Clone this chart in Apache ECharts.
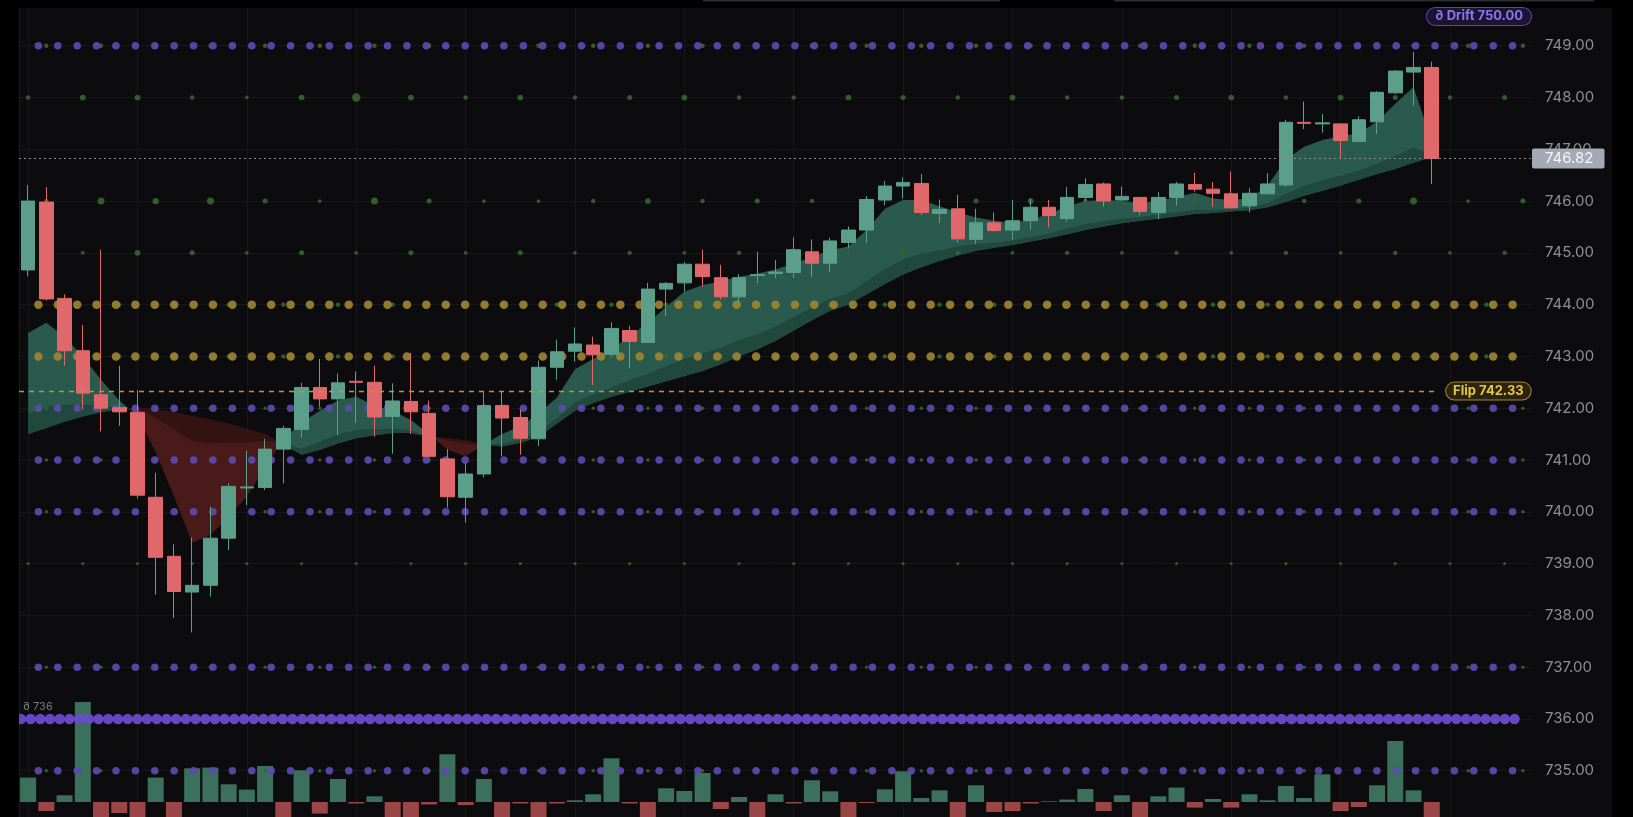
<!DOCTYPE html>
<html>
<head>
<meta charset="utf-8">
<script src="https://cdn.jsdelivr.net/npm/echarts@6/dist/echarts.min.js"></script>
<style>
html,body{margin:0;padding:0;background:#000;overflow:hidden;}
#c{width:1633px;height:817px;}
</style>
</head>
<body>
<div id="c"></div>
<script>
// ---------- DATA ----------
// 5-minute session bars 09:30 -> 15:55 (78 bars) plus 5 empty slots to the right
const SLOT_COUNT = 83;
const times = [];
for (let i = 0, m = 9 * 60 + 30; i < SLOT_COUNT; i++, m += 5) {
  times.push(String(Math.floor(m / 60)).padStart(2, '0') + ':' + String(m % 60).padStart(2, '0'));
}

const open  = [744.67,745.98,744.12,743.11,742.26,742.01,741.92,740.28,739.14,738.45,
               738.58,739.49,740.46,740.47,741.21,741.59,742.40,742.18,742.52,742.50,
               741.84,742.13,741.90,741.02,740.28,740.73,742.05,741.82,741.41,742.79,
               743.10,743.22,743.04,743.50,743.27,744.30,744.42,744.78,744.52,744.15,
               744.56,744.60,744.62,745.02,744.80,745.20,745.44,746.02,746.29,746.34,
               745.76,745.85,745.26,745.58,745.44,745.62,745.88,745.66,746.07,746.33,
               746.02,746.07,745.78,746.07,746.32,746.23,746.14,745.91,746.14,746.31,
               747.52,747.49,747.49,747.15,747.53,748.09,748.49,748.58];
const close = [746.00,744.11,743.11,742.29,742.00,741.93,740.32,739.12,738.46,738.58,
               739.49,740.49,740.48,741.21,741.61,742.40,742.18,742.49,742.50,741.83,
               742.14,741.93,741.07,740.29,740.73,742.05,741.81,741.42,742.79,743.09,
               743.24,743.03,743.54,743.29,744.30,744.41,744.78,744.54,744.15,744.52,
               744.58,744.63,745.06,744.80,745.23,745.44,746.03,746.29,746.36,745.78,
               745.84,745.27,745.58,745.43,745.62,745.88,745.72,746.07,746.32,746.00,
               746.09,745.80,746.07,746.33,746.23,746.15,745.87,746.15,746.33,747.52,
               747.50,747.51,747.17,747.57,748.10,748.51,748.58,746.82];
const low   = [744.55,744.08,742.82,741.97,741.55,741.66,740.26,738.40,737.95,737.67,
               738.36,739.26,740.13,740.42,740.55,741.43,742.03,741.48,741.72,741.45,
               741.12,741.50,741.05,740.08,739.79,740.66,741.07,741.10,741.27,742.55,
               742.90,742.45,743.00,742.77,743.26,743.78,744.25,744.35,744.10,744.03,
               744.41,744.51,744.51,744.54,744.63,745.09,745.19,745.92,746.05,745.73,
               745.58,745.20,745.17,745.41,745.26,745.44,745.49,745.60,745.99,745.89,
               746.00,745.73,745.65,745.91,746.18,745.89,745.86,745.78,746.12,746.27,
               747.39,747.32,746.83,747.13,747.29,748.07,747.84,746.33];
const high  = [746.31,746.27,744.20,743.61,745.06,742.82,742.35,740.75,739.37,739.50,
               740.10,740.55,741.18,741.41,741.66,742.49,742.95,742.67,742.71,742.82,
               742.48,743.07,742.15,741.21,740.95,742.32,742.32,741.97,742.92,743.32,
               743.56,743.38,743.66,743.59,744.42,744.44,744.82,745.06,744.77,744.59,
               745.02,744.86,745.30,745.26,745.29,745.51,746.10,746.39,746.46,746.52,
               746.03,746.12,745.85,745.78,746.02,746.05,746.02,746.27,746.44,746.36,
               746.28,746.08,746.17,746.37,746.55,746.37,746.57,746.25,746.54,747.57,
               747.92,747.68,747.50,747.64,748.12,748.53,748.88,748.69];

// trend ribbon (fast / mid / slow averages)
const ribbonFast = [743.45,743.65,743.38,743.00,742.55,742.15,741.85,741.15,740.30,739.40,
                    739.55,739.90,740.30,740.85,741.40,741.72,741.95,742.15,742.22,742.05,
                    741.95,741.77,741.50,741.20,741.07,741.30,741.50,741.65,741.90,742.20,
                    742.75,742.95,743.13,743.40,743.64,743.96,744.25,744.38,744.45,744.54,
                    744.60,744.68,744.80,744.92,745.05,745.12,745.44,745.85,746.02,746.02,
                    745.90,745.78,745.68,745.62,745.58,745.64,745.75,745.90,746.00,746.02,
                    746.00,745.96,746.00,746.08,746.16,746.05,746.02,746.05,746.30,746.80,
                    747.05,747.18,747.25,747.31,747.53,747.88,748.20,747.15];
const ribbonMid  = [741.89,742.03,742.07,742.07,742.05,742.01,741.99,741.81,741.60,741.36,
                    741.33,741.34,741.34,741.37,741.32,741.22,741.35,741.49,741.58,741.59,
                    741.61,741.57,741.46,741.38,741.32,741.30,741.31,741.39,741.54,741.80,
                    742.11,742.27,742.40,742.54,742.66,742.81,742.95,743.05,743.17,743.31,
                    743.43,743.58,743.76,743.94,744.11,744.22,744.45,744.69,744.87,744.98,
                    745.05,745.12,745.17,745.20,745.24,745.30,745.37,745.47,745.55,745.61,
                    745.66,745.69,745.73,745.78,745.83,745.83,745.84,745.87,745.96,746.14,
                    746.29,746.40,746.49,746.59,746.72,746.87,747.03,746.91];
const ribbonSlow = [741.50,741.62,741.74,741.84,741.92,741.98,742.02,741.98,741.92,741.85,
                    741.78,741.70,741.60,741.50,741.30,741.10,741.20,741.32,741.42,741.48,
                    741.52,741.52,741.45,741.42,741.38,741.30,741.26,741.33,741.45,741.70,
                    741.95,742.10,742.22,742.32,742.42,742.52,742.62,742.72,742.85,743.00,
                    743.14,743.30,743.50,743.70,743.88,744.00,744.20,744.40,744.58,744.72,
                    744.84,744.95,745.04,745.10,745.15,745.22,745.28,745.36,745.44,745.51,
                    745.57,745.62,745.66,745.70,745.75,745.77,745.80,745.82,745.88,745.98,
                    746.10,746.20,746.30,746.41,746.52,746.62,746.74,746.85];

// signed volume delta (thousands)
const volumeDelta = [24.4,-9,6.7,100,-22,-11,-22,24.4,-22,33.7,
                     34.4,17.7,12.4,36,-22,31.7,-11.6,23,-1.5,5.7,
                     -22,-22,-2.5,47.7,-3,23,-22,-1.5,-22,-1.5,
                     1.7,7.7,43.7,-1.5,-22,13.7,11,29,-7,5,
                     -22,7.7,-1.5,21.7,10.7,-22,-1,12.7,30.7,4,
                     11.7,-22,16.7,-10,-9,-1.5,0.7,2.4,13,-9,
                     6.7,-22,5.7,14.4,-5.6,3,-5.6,7.7,1.7,16,
                     4,27.7,-9,-5,16.7,61,11.7,-22];

// level markers
const purpleLevels = [749, 742, 741, 740, 737, 735];
const goldLevels   = [744, 743];
const denseLevel   = 736;
const lastPrice    = close[close.length - 1];
const flipLevel    = 742.33;
const driftLevel   = 750.00;
const yTicks       = [734, 750, 1]; // min, max, step

// small green level dots: [level, first slot, weights...]
const greenRows = [
  [748, 0, [2,3,3,2,1.5,3,5,3,2,3,2,2.5,3,2,2,3,2.5,2,3,2,2,2.5,3,2,3,2.5,2,2.5]],
  [746, 1, [2,4,3.5,4,2.5,1.5,4,2.5,1.5,1.5,2,3,2,2.5,2,3,2,2.5,3,2,2.5,2,2,2,2.5,4,1.5,2.5]],
  [745, 0, [1.5,1.5,3,2.5,1.5,2.5,1.5,2.5,1.5,2.5,1.5,2,1.5,2,1.5,2,2.5,2,1.5,2,1.5,2,1.5,2,1.5,2,1.5,2]],
  [749, 1, [2,2,2,2,2,2,2,2,2,2,2,2,2,2,2,2,2,2,2,2,2,2,2,2,2,2,2,2]],
  [744, 2, [2,2,2,2,2,2,2,2,2,2,2,2,2,2,2,2,2,2,2,2,2,2,2,2,2,2,2]],
  [743, 2, [2,2,2,2,2,2,2,2,2,2,2,2,2,2,2,2,2,2,2,2,2,2,2,2,2,2,2]],
  [742, 1, [1.2,1.2,1.2,1.2,1.2,1.2,1.2,1.2,1.2,1.2,1.2,1.2,1.2,1.2,1.2,1.2,1.2,1.2,1.2,1.2,1.2,1.2,1.2,1.2,1.2,1.2,1.2,1.2]],
  [741, 1, [1.2,1.2,1.2,1.2,1.2,1.2,1.2,1.2,1.2,1.2,1.2,1.2,1.2,1.2,1.2,1.2,1.2,1.2,1.2,1.2,1.2,1.2,1.2,1.2,1.2,1.2,1.2,1.2]],
  [740, 1, [1.2,1.2,1.2,1.2,1.2,1.2,1.2,1.2,1.2,1.2,1.2,1.2,1.2,1.2,1.2,1.2,1.2,1.2,1.2,1.2,1.2,1.2,1.2,1.2,1.2,1.2,1.2,1.2]],
  [739, 0, [1,1,1,1,1,1,1,1,1,1,1,1,1,1,1,1,1,1,1,1,1,1,1,1,1,1,1,1]],
  [737, 1, [1.2,1.2,1.2,1.2,1.2,1.2,1.2,1.2,1.2,1.2,1.2,1.2,1.2,1.2,1.2,1.2,1.2,1.2,1.2,1.2,1.2,1.2,1.2,1.2,1.2,1.2,1.2,1.2]],
  [735, 1, [1.2,1.2,1.2,1.2,1.2,1.2,1.2,1.2,1.2,1.2,1.2,1.2,1.2,1.2,1.2,1.2,1.2,1.2,1.2,1.2,1.2,1.2,1.2,1.2,1.2,1.2,1.2,1.2]]
];

// ---------- LAYOUT / STYLE ----------
const DOT_SLOTS = 78;          // level-dot lattice width
const UP = '#5b9e89', DOWN = '#e0676a';
const PX = { left: 19, right: 101 };

// ---------- BUILD ----------
const candleData = open.map((o, i) => [o, close[i], low[i], high[i]]);

function levelRow(level, from, to, step) {
  const a = [];
  for (let k = from; k <= to + 1e-9; k += step) a.push([+k.toFixed(3), level]);
  return a;
}
const purpleDots = purpleLevels.flatMap(l => levelRow(l, 1, DOT_SLOTS - 1, 1));
const goldDots   = goldLevels.flatMap(l => levelRow(l, 1, DOT_SLOTS - 1, 1));
const denseDots  = levelRow(denseLevel, 0.1, DOT_SLOTS - 0.9, 0.5);
const greenDots  = [];
greenRows.forEach(([lvl, first, w]) => {
  w.forEach((wt, j) => { const idx = first + 3 * j; if (idx < SLOT_COUNT) greenDots.push([idx, lvl, wt]); });
});

function ribbonRender(params, api) {
  if (params.dataIndex !== 0) return null;
  const n = ribbonFast.length;
  const runs = [];
  let cur = null;
  for (let i = 0; i < n; i++) {
    const d = ribbonFast[i] - ribbonSlow[i];
    const up = d >= 0;
    const pt = { f: api.coord([i, ribbonFast[i]]), m: api.coord([i, ribbonMid[i]]), s: api.coord([i, ribbonSlow[i]]) };
    if (!cur) { cur = { up, pts: [pt] }; runs.push(cur); continue; }
    if (up !== cur.up) {
      const dp = ribbonFast[i - 1] - ribbonSlow[i - 1];
      const t = dp / (dp - d);
      const prev = cur.pts[cur.pts.length - 1];
      const cx = [prev.f[0] + (pt.f[0] - prev.f[0]) * t, prev.f[1] + (pt.f[1] - prev.f[1]) * t];
      const c = { f: cx, m: cx, s: cx };
      cur.pts.push(c);
      cur = { up, pts: [c, pt] };
      runs.push(cur);
    } else cur.pts.push(pt);
  }
  const children = [];
  runs.forEach(r => {
    const outer = r.pts.map(p => p.f).concat(r.pts.map(p => p.s).reverse());
    const inner = r.pts.map(p => p.m).concat(r.pts.map(p => p.s).reverse());
    children.push({ type: 'polygon', shape: { points: outer }, style: { fill: r.up ? '#2a5a4d' : '#4a1a1a' } });
    children.push({ type: 'polygon', shape: { points: inner }, style: { fill: r.up ? '#20483d' : '#331212' } });
  });
  return { type: 'group', children };
}

const vLines = [];
for (let i = 0; i < SLOT_COUNT; i += 6) vLines.push({ xAxis: times[i] });

const chart = echarts.init(document.getElementById('c'), null, { renderer: 'canvas', width: 1633, height: 817 });

const option = {
  animation: false,
  backgroundColor: '#0c0c0e',
  grid: [
    { left: PX.left, right: PX.right, top: -6.1, height: 828.6, containLabel: false, outerBoundsMode: 'none' },
    { left: PX.left, right: PX.right, top: 682, height: 136, containLabel: false, outerBoundsMode: 'none' }
  ],
  xAxis: [
    { gridIndex: 0, type: 'category', data: times, boundaryGap: true, show: false },
    { gridIndex: 0, type: 'value', min: 0, max: DOT_SLOTS, show: false },
    { gridIndex: 1, type: 'category', data: times, boundaryGap: true, show: false }
  ],
  yAxis: [
    {
      gridIndex: 0, type: 'value', position: 'right', min: yTicks[0], max: yTicks[1], interval: yTicks[2],
      axisLine: { show: true, lineStyle: { color: '#1b1b20' } }, axisTick: { show: false },
      axisLabel: { color: '#8e8e93', fontSize: 15, fontFamily: 'Inter', margin: 13,
                   showMinLabel: false, showMaxLabel: false, formatter: v => v.toFixed(2) },
      splitLine: { show: true, lineStyle: { color: '#18181c', width: 1 } }
    },
    { gridIndex: 1, type: 'value', min: -16, max: 120, show: false, splitLine: { show: false } }
  ],
  series: [
    { // vertical half-hour grid lines
      type: 'scatter', xAxisIndex: 0, yAxisIndex: 0, z: 1, silent: true,
      data: [[0, 742]], symbolSize: 0,
      markLine: { silent: true, z: 1, symbol: 'none', label: { show: false },
        lineStyle: { color: '#17171b', width: 1, type: 'solid' }, emphasis: { disabled: true }, data: vLines }
    },
    { // ribbon
      type: 'custom', xAxisIndex: 0, yAxisIndex: 0, z: 2, silent: true,
      data: [[0, ribbonFast[0]]], renderItem: ribbonRender
    },
    { // volume delta
      type: 'bar', xAxisIndex: 2, yAxisIndex: 1, z: 2, barWidth: 16, silent: true, clip: true,
      data: volumeDelta.map(v => ({ value: v, itemStyle: { color: v >= 0 ? '#3b705d' : '#9a4646' } }))
    },
    { // green level dots
      type: 'scatter', xAxisIndex: 0, yAxisIndex: 0, z: 3, silent: true,
      data: greenDots, symbolSize: v => 1.8 + v[2] * 1.3,
      itemStyle: { color: '#35652f', opacity: 0.9 }
    },
    { // purple level dots
      type: 'scatter', xAxisIndex: 1, yAxisIndex: 0, z: 4, silent: true,
      data: purpleDots, symbolSize: 7.5, itemStyle: { color: '#5c4aaf', opacity: 0.92 }
    },
    { // gold level dots
      type: 'scatter', xAxisIndex: 1, yAxisIndex: 0, z: 4, silent: true,
      data: goldDots, symbolSize: 8.5, itemStyle: { color: '#a08330', opacity: 0.92 }
    },
    { // dense level
      type: 'scatter', xAxisIndex: 1, yAxisIndex: 0, z: 4, silent: true,
      data: denseDots, symbolSize: 10.5, itemStyle: { color: '#6a4bce', opacity: 0.95 }
    },
    { // candles
      type: 'candlestick', xAxisIndex: 0, yAxisIndex: 0, z: 5, barWidth: 14, silent: true,
      data: candleData,
      itemStyle: { color: UP, color0: DOWN, borderColor: UP, borderColor0: DOWN, borderWidth: 1 },
      markLine: {
        silent: true, z: 6, symbol: 'none', emphasis: { disabled: true },
        lineStyle: { color: '#8a8a8e', width: 1, type: [2, 3] },
        label: {
          show: true, position: 'end', distance: 0, formatter: lastPrice.toFixed(2),
          color: '#f3f5f8', backgroundColor: '#a3aab6', padding: [3, 11, 2, 13],
          fontSize: 15, fontFamily: 'Inter', borderRadius: 2
        },
        data: [{ yAxis: lastPrice }]
      }
    },
    { // flip level
      type: 'scatter', xAxisIndex: 1, yAxisIndex: 0, z: 6, silent: true,
      data: [[0, flipLevel]], symbolSize: 0,
      markLine: {
        silent: true, z: 6, symbol: 'none', emphasis: { disabled: true },
        lineStyle: { color: '#b39a34', width: 1.3, type: [5, 5] },
        label: {
          show: true, position: 'end', distance: 8, formatter: 'Flip ' + flipLevel.toFixed(2),
          color: '#e9c545', fontWeight: 'bold', fontSize: 13, fontFamily: 'Inter',
          backgroundColor: '#2b2410', borderColor: '#a4862a', borderWidth: 1, borderRadius: 9,
          padding: [2, 7, 2, 7]
        },
        data: [[{ coord: [0, flipLevel] }, { coord: [(close.length - 1 + 0.85) * DOT_SLOTS / SLOT_COUNT, flipLevel] }]]
      }
    }
  ],
  graphic: [
    { type: 'rect', z: 100, silent: true, shape: { x: 0, y: 0, width: 19, height: 817 }, style: { fill: '#000' } },
    { type: 'rect', z: 100, silent: true, shape: { x: 0, y: 0, width: 1633, height: 8 }, style: { fill: '#000' } },
    { type: 'rect', z: 100, silent: true, shape: { x: 1612, y: 0, width: 21, height: 817 }, style: { fill: '#000' } },
    { type: 'rect', z: 101, silent: true, shape: { x: 703, y: 0, width: 297, height: 1.5 }, style: { fill: '#2b2b30' } },
    { type: 'rect', z: 101, silent: true, shape: { x: 1114, y: 0, width: 480, height: 1.5 }, style: { fill: '#2b2b30' } },
    {
      type: 'text', z: 102, silent: true, x: 1479, y: 16.5,
      style: {
        text: '\u2202 Drift ' + driftLevel.toFixed(2), fill: '#8e72f2', font: 'bold 13px Inter',
        align: 'center', verticalAlign: 'middle',
        backgroundColor: '#1b1531', borderColor: '#5b41bb', borderWidth: 1, borderRadius: 9,
        padding: [2, 8, 2, 8]
      }
    },
    {
      type: 'text', z: 102, silent: true, x: 23, y: 707,
      style: { text: '\u2202 ' + denseLevel, fill: '#77777c', font: '11px Inter', verticalAlign: 'middle' }
    }
  ]
};
chart.setOption(option);
</script>
</body>
</html>
